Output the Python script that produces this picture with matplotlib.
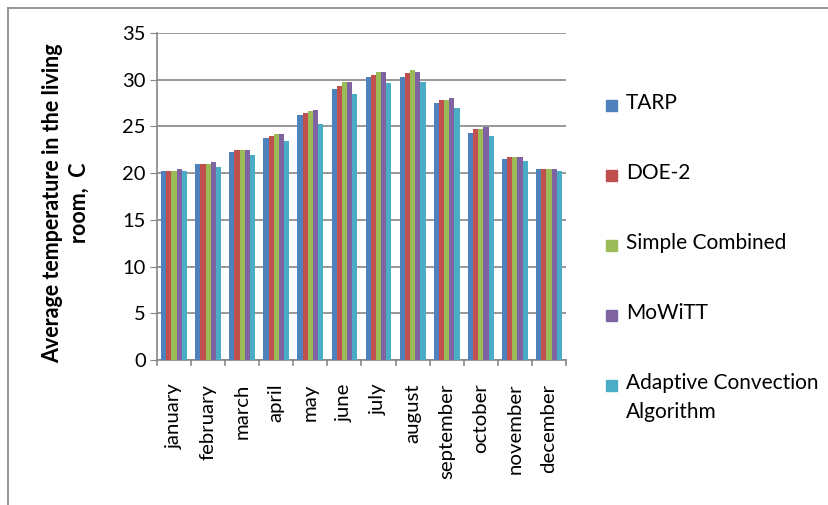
import numpy as np
import matplotlib.pyplot as plt
from matplotlib.lines import Line2D

months = ["january", "february", "march", "april", "may", "june", "july",
          "august", "september", "october", "november", "december"]
series_names = ["TARP", "DOE-2", "Simple Combined", "MoWiTT",
                "Adaptive Convection\nAlgorithm"]

tarp = [20.25, 21.0, 22.3, 23.8, 26.2, 29.0, 30.3, 30.3, 27.5, 24.35, 21.55, 20.45]
doe2 = [20.25, 21.0, 22.5, 24.0, 26.4, 29.35, 30.55, 30.7, 27.85, 24.75, 21.75, 20.45]
simple = [20.25, 21.0, 22.5, 24.2, 26.6, 29.75, 30.85, 31.05, 27.85, 24.75, 21.75, 20.45]
mowitt = [20.45, 21.2, 22.5, 24.2, 26.8, 29.75, 30.85, 30.85, 28.05, 24.95, 21.75, 20.45]
aca = [20.25, 20.65, 21.95, 23.45, 25.3, 28.45, 29.6, 29.8, 26.95, 24.0, 21.35, 20.25]

series = [tarp, doe2, simple, mowitt, aca]
colors = ["#4F81BD", "#C0504D", "#9BBB59", "#8064A2", "#4BACC6"]

plt.rcParams['font.family'] = ['Lato', 'DejaVu Sans']

W, H = 829, 505
fig = plt.figure(figsize=(W / 100, H / 100), dpi=100)
ax = fig.add_axes([157 / W, 1 - 360 / H, 409 / W, 327 / H])

x = np.arange(len(months))
group = 0.76
bw = group / len(series)
for i, (vals, c) in enumerate(zip(series, colors)):
    ax.bar(x - group / 2 + bw * (i + 0.5), vals, bw, color=c, zorder=3)

ax.set_xlim(-0.5, len(months) - 0.5)
ax.set_ylim(0, 35)
ax.set_yticks(range(0, 36, 5))
ax.set_xticks(x)
ax.set_xticklabels(months, rotation=90, fontsize=14.7)
ax.tick_params(axis='x', length=0, pad=17)
ax.tick_params(axis='y', labelsize=14.5, length=5, color='#868686', pad=3)

# category separator ticks below the axis
for b in np.arange(-0.5, len(months) + 0.5, 1):
    ax.plot([b, b], [0, -0.55], color='#868686', lw=1.2, clip_on=False, zorder=4)

ax.grid(axis='y', color='#868686', lw=1.2, zorder=0)
for s in ['top', 'right']:
    ax.spines[s].set_visible(False)
for s in ['left', 'bottom']:
    ax.spines[s].set_color('#868686')
    ax.spines[s].set_linewidth(1.2)

fig.text(66 / W, 1 - 203 / H, "Average temperature in the living\nroom,  C",
         rotation=90, ha='center', va='center', fontsize=15.5,
         fontweight='bold', linespacing=1.3)

# legend entries placed by hand, each with a square swatch
legend_y = [105, 175, 245, 315, 385]
for name, c, yy in zip(series_names, colors, legend_y):
    fig.patches.append(plt.Rectangle((606 / W, 1 - (yy + 6) / H), 11 / W, 11 / H,
                                     transform=fig.transFigure, color=c))
    fig.text(626 / W, 1 - (yy - 12) / H, name, ha='left', va='top',
             fontsize=15, linespacing=1.55)

# outer chart-area border (top and left edges visible)
fig.add_artist(Line2D([8 / W, 1], [1 - 8 / H, 1 - 8 / H], color='#8c8c8c', lw=1.3))
fig.add_artist(Line2D([8 / W, 8 / W], [0, 1 - 8 / H], color='#8c8c8c', lw=1.3))

fig.savefig("out.png", dpi=100)
